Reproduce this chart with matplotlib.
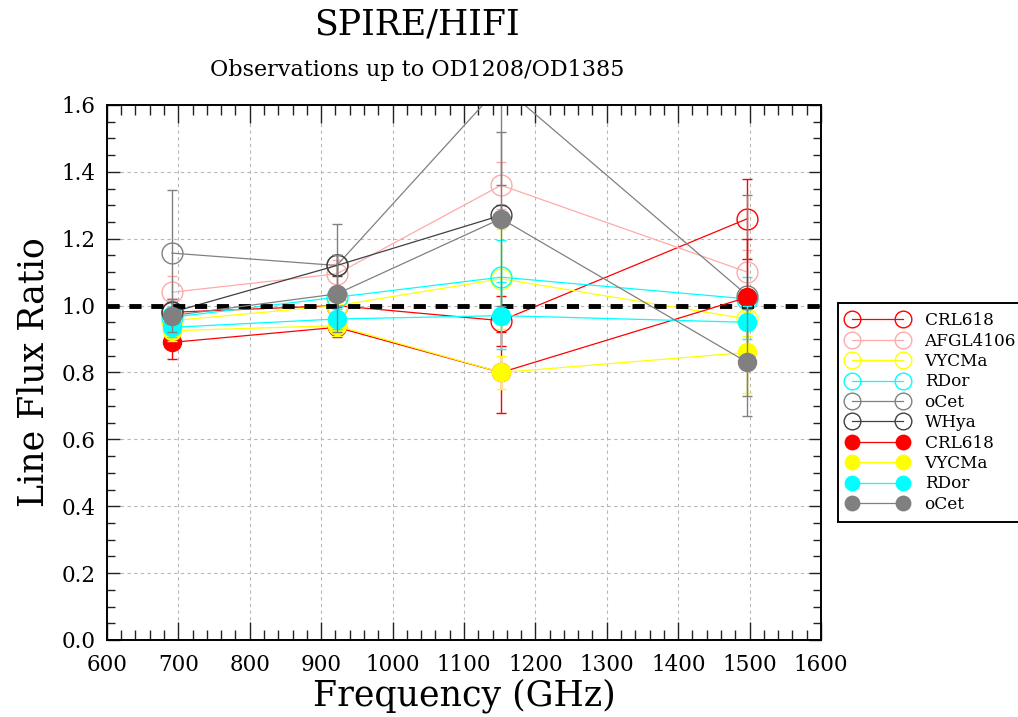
import numpy as np
import matplotlib
matplotlib.use("Agg")
import matplotlib.pyplot as plt
from matplotlib.ticker import MultipleLocator

# --- data ---
freq = [691, 922, 1152, 1497]          # GHz
freq_whya = [691, 922, 1152]

# open circles
crl618_open = [0.98, 1.00, 0.955, 1.26]
crl618_open_err = [0.04, 0.03, 0.075, 0.12]
afgl4106_open = [1.04, 1.095, 1.36, 1.10]
afgl4106_open_err = [0.05, 0.04, 0.07, 0.066]
vycma_open = [0.955, 1.00, 1.08, 0.96]
vycma_open_err = [0.03, 0.03, 0.15, 0.05]
rdor_open = [0.965, 1.025, 1.085, 1.02]
rdor_open_err = [0.03, 0.03, 0.11, 0.066]
ocet_open = [1.157, 1.12, 1.66, 1.03]
ocet_open_err = [0.19, 0.125, 0.30, 0.30]
whya_open = [0.98, 1.12, 1.27]
whya_open_err = [0.03, 0.03, 0.03]

# filled circles
crl618_fill = [0.89, 0.935, 0.80, 1.025]
crl618_fill_err = [0.05, 0.03, 0.12, 0.175]
vycma_fill = [0.925, 0.94, 0.80, 0.86]
vycma_fill_err = [0.03, 0.03, 0.05, 0.12]
rdor_fill = [0.935, 0.96, 0.97, 0.95]
rdor_fill_err = [0.03, 0.03, 0.10, 0.05]
ocet_fill = [0.97, 1.035, 1.26, 0.83]
ocet_fill_err = [0.05, 0.115, 0.26, 0.16]

RED, PINK, YELLOW, CYAN, GREY, DARK = "#ff0000", "#ffaaaa", "#ffff00", "#00ffff", "#808080", "#404040"

open_series = [
    ("CRL618", freq, crl618_open, crl618_open_err, RED),
    ("AFGL4106", freq, afgl4106_open, afgl4106_open_err, PINK),
    ("VYCMa", freq, vycma_open, vycma_open_err, YELLOW),
    ("RDor", freq, rdor_open, rdor_open_err, CYAN),
    ("oCet", freq, ocet_open, ocet_open_err, GREY),
    ("WHya", freq_whya, whya_open, whya_open_err, DARK),
]
fill_series = [
    ("CRL618", freq, crl618_fill, crl618_fill_err, RED),
    ("VYCMa", freq, vycma_fill, vycma_fill_err, YELLOW),
    ("RDor", freq, rdor_fill, rdor_fill_err, CYAN),
    ("oCet", freq, ocet_fill, ocet_fill_err, GREY),
]

plt.rcParams["font.family"] = ["DejaVu Serif"]

fig = plt.figure(figsize=(10.18, 7.17), dpi=100)
ax = fig.add_axes([0.105, 0.1074, 0.7015, 0.7462])

handles = []
for name, x, y, err, col in open_series:
    ax.errorbar(x, y, yerr=err, fmt="none", ecolor=col, elinewidth=1.0,
                capsize=3.6, capthick=1.0, zorder=2)
    h, = ax.plot(x, y, "-", color=col, lw=0.9, marker="o", ms=15,
                 mfc="none", mec=col, mew=1.0, label=name, zorder=2)
    handles.append(h)

# reference level
ax.axhline(1.0, color="black", lw=3.5, linestyle=(0, (2.5, 2.0)),
           dash_capstyle="butt", zorder=2.5)

for name, x, y, err, col in fill_series:
    ax.errorbar(x, y, yerr=err, fmt="none", ecolor=col, elinewidth=1.0,
                capsize=3.6, capthick=1.0, zorder=3)
    h, = ax.plot(x, y, "-", color=col, lw=0.9, marker="o", ms=13,
                 mfc=col, mec=col, label=name, zorder=3)
    handles.append(h)

ax.set_xlim(600, 1600)
ax.set_ylim(0.0, 1.6)
ax.xaxis.set_major_locator(MultipleLocator(100))
ax.xaxis.set_minor_locator(MultipleLocator(20))
ax.yaxis.set_major_locator(MultipleLocator(0.2))
ax.yaxis.set_minor_locator(MultipleLocator(0.05))
ax.yaxis.set_major_formatter(matplotlib.ticker.FormatStrFormatter("%.1f"))
ax.tick_params(which="both", direction="in", top=True, right=True,
               labelsize=15.5, width=1.0, color="#222222")
ax.tick_params(axis="x", which="major", length=13, pad=10)
ax.tick_params(axis="x", which="minor", length=7)
ax.tick_params(axis="y", which="major", length=9, pad=8)
ax.tick_params(axis="y", which="minor", length=6)
for s in ax.spines.values():
    s.set_linewidth(1.4)
ax.grid(True, which="major", color="#b8b8b8", lw=0.8, linestyle=(0, (3, 3)))

ax.set_xlabel("Frequency (GHz)", fontsize=25, labelpad=2)
ax.set_ylabel("Line Flux Ratio", fontsize=25, labelpad=8)

fig.text(417 / 1018, 1 - 25 / 717, "SPIRE/HIFI", ha="center", va="center", fontsize=25)
fig.text(417 / 1018, 1 - 70 / 717, "Observations up to OD1208/OD1385",
         ha="center", va="center", fontsize=16)

leg = fig.legend(handles=handles, loc="upper left",
                 bbox_to_anchor=(838 / 1018, 1 - 303 / 717), borderaxespad=0,
                 numpoints=2, markerscale=0.8, fontsize=12.2, handlelength=3.61,
                 handletextpad=0.95, labelspacing=0.2, borderpad=0.55,
                 fancybox=False, framealpha=1, edgecolor="black")
leg.get_frame().set_linewidth(1.4)

fig.savefig("out.png", dpi=100)
